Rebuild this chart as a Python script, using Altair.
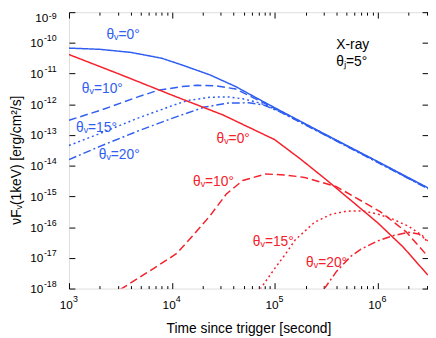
import altair as alt
import pandas as pd

# ---------------- data ----------------
# blue: X-ray, theta_v = 0, 10, 15, 20 deg (upper family)
t_b0 = [1e3, 2.0e3, 4.0e3, 8.0e3, 1.26e4, 2.34e4, 4.17e4, 6.31e4, 1e5, 3.16e5, 1e6, 3.09e6]
f_b0 = [6.76e-11, 6.17e-11, 4.90e-11, 3.16e-11, 1.90e-11, 9.12e-12, 3.80e-12, 1.78e-12, 7.76e-13, 1.02e-13, 1.38e-14, 1.91e-15]

t_b10 = [1e3, 2.0e3, 4.68e3, 7.24e3, 1.26e4, 1.78e4, 2.69e4, 4.17e4, 6.31e4, 1e5, 3.16e5, 1e6, 3.09e6]
f_b10 = [3.02e-13, 6.31e-13, 1.74e-12, 2.82e-12, 3.80e-12, 4.17e-12, 3.98e-12, 3.16e-12, 1.58e-12, 7.41e-13, 1.0e-13, 1.35e-14, 1.86e-15]

t_b15 = [1e3, 2.0e3, 4.68e3, 1.12e4, 1.41e4, 2.34e4, 3.55e4, 4.9e4, 7.08e4, 1e5, 3.16e5, 1e6, 3.09e6]
f_b15 = [4.57e-14, 1.12e-13, 3.55e-13, 1.02e-12, 1.32e-12, 1.70e-12, 1.74e-12, 1.51e-12, 1.12e-12, 7.08e-13, 9.77e-14, 1.32e-14, 1.82e-15]

t_b20 = [1e3, 2.0e3, 4.68e3, 1.12e4, 2.09e4, 3.55e4, 5.62e4, 7.94e4, 1.12e5, 3.16e5, 1e6, 3.09e6]
f_b20 = [1.58e-14, 4.27e-14, 1.35e-13, 3.98e-13, 8.13e-13, 1.10e-12, 1.12e-12, 9.33e-13, 5.75e-13, 9.55e-14, 1.29e-14, 1.78e-15]

# red: lower family
t_r0 = [1e3, 3.16e3, 1e4, 3.16e4, 1e5, 1.78e5, 3.16e5, 5.62e5, 1e6, 1.78e6, 3.09e6]
f_r0 = [4.17e-11, 9.33e-12, 2.0e-12, 4.47e-13, 7.08e-14, 1.66e-14, 3.55e-15, 7.08e-16, 1.41e-16, 2.24e-17, 2.75e-18]

t_r10 = [3.16e3, 5.62e3, 9.33e3, 1.12e4, 1.55e4, 2.34e4, 3.39e4, 4.9e4, 8.13e4, 1.26e5, 1.95e5, 3.98e5, 1.07e6, 1.91e6, 3.09e6]
f_r10 = [9.33e-19, 3.16e-18, 9.33e-18, 1.41e-17, 4.68e-17, 2.29e-16, 1.20e-15, 3.31e-15, 5.37e-15, 5.01e-15, 4.17e-15, 2.09e-15, 3.16e-16, 6.92e-17, 1.12e-17]

t_r15 = [7.24e4, 1e5, 1.26e5, 1.58e5, 1.95e5, 2.45e5, 3.55e5, 5.01e5, 7.08e5, 1e6, 1.41e6, 2.0e6, 2.75e6, 3.09e6]
f_r15 = [9.55e-19, 4.47e-18, 1.26e-17, 3.80e-17, 7.24e-17, 1.45e-16, 2.63e-16, 3.31e-16, 3.39e-16, 2.69e-16, 1.82e-16, 1.07e-16, 5.25e-17, 3.16e-17]

t_r20 = [3.02e5, 3.98e5, 5.5e5, 6.92e5, 1e6, 1.41e6, 2.0e6, 2.51e6, 3.09e6]
f_r20 = [9.55e-19, 3.55e-18, 1.12e-17, 1.91e-17, 3.55e-17, 5.25e-17, 6.76e-17, 6.03e-17, 3.55e-17]

curve_names = ["b0", "b10", "b15", "b20", "r0", "r10", "r15", "r20"]

# annotations
lbl_text = ["θᵥ=0°", "θᵥ=10°", "θᵥ=15°", "θᵥ=20°"]
lbl_blue_t = [3.36e3, 2.11e3, 1.85e3, 3.08e3]
lbl_blue_f = [1.78e-10, 3.05e-12, 1.71e-13, 2.17e-14]
lbl_red_t = [3.95e4, 2.54e4, 9.7e4, 3.2e5]
lbl_red_f = [7.6e-14, 2.96e-15, 3.3e-17, 6.8e-18]
note_text = ["X-ray", "θⱼ=5°"]
note_t = [3.98e5, 3.98e5]
note_f = [8.4e-11, 2.4e-11]

x_major = [1e3, 1e4, 1e5, 1e6]
x_exps = ["3", "4", "5", "6"]
y_major = [1e-18, 1e-17, 1e-16, 1e-15, 1e-14, 1e-13, 1e-12, 1e-11, 1e-10, 1e-9]
y_exps = ["-18", "-17", "-16", "-15", "-14", "-13", "-12", "-11", "-10", "-9"]

# ---------------- build ----------------
BLUE = "#2f5ef0"
RED = "#f5202a"
W, H = 365, 281
XDOM = [1e3, 3.1e6]
YDOM = [1e-18, 1e-9]

series = [t_b0, t_b10, t_b15, t_b20, t_r0, t_r10, t_r15, t_r20]
fluxes = [f_b0, f_b10, f_b15, f_b20, f_r0, f_r10, f_r15, f_r20]
rows = []
for name, ts, fs in zip(curve_names, series, fluxes):
    for t, f in zip(ts, fs):
        rows.append({"t": t, "f": f, "curve": name})
df = pd.DataFrame(rows)

x_minor = [m * 10 ** e for e in range(3, 7) for m in range(2, 10) if m * 10 ** e <= XDOM[1]]
x_ticks = sorted(x_major + x_minor)

xs = alt.Scale(type="log", domain=XDOM, nice=False)
ys = alt.Scale(type="log", domain=YDOM, nice=False)

EXPO = "round(log(datum.value)/LN10)"
xexp_expr = "[" + ",".join("'%s'" % s for s in x_exps) + "][" + EXPO + "-3]"
yexp_expr = "[" + ",".join("'%s'" % s for s in y_exps) + "][" + EXPO + "+18]"
MAJOR = "abs(log(datum.value)/LN10 - " + EXPO + ") < 0.01"
TOP = "datum.value > 5e-10"
xtick_size = {"condition": {"test": MAJOR, "value": 6}, "value": 3}


def tick_axis(orient, offset, values, size):
    return alt.Axis(orient=orient, offset=offset, values=values, labels=False, domain=False,
                    grid=False, title=None, tickSize=size, tickColor="black", tickWidth=1)


dash_range = [[1, 0], [8, 4], [2, 3], [8, 3, 2, 3], [1, 0], [8, 4], [2, 3], [8, 3, 2, 3]]
color_range = [BLUE] * 4 + [RED] * 4

x_base_axis = alt.Axis(orient="bottom", values=x_major, labelExpr="'10'", ticks=False, tickSize=0,
                       domain=False, grid=False,
                       labelFontSize=12, labelAlign="right", labelOffset=3.5, labelBaseline="middle",
                       labelPadding=16, labelColor="black",
                       title="Time since trigger [second]", titleFontSize=14, titleFontWeight="normal",
                       titleColor="black", titleY=41, titleBaseline="middle")
y_base_axis = alt.Axis(orient="left", values=y_major, labelExpr="'10'", ticks=False, tickSize=0,
                       domain=False, grid=False,
                       labelFontSize=12, labelAlign="right", labelBaseline="middle", labelColor="black",
                       labelPadding={"condition": {"test": TOP, "value": 21.5}, "value": 26.5},
                       labelOffset={"condition": {"test": TOP, "value": 5.5}, "value": 0},
                       title="νFᵥ(1keV) [erg/cm²/s]", titleFontSize=14, titleFontWeight="normal",
                       titleColor="black", titleX=-53, titleY=150, titleAngle=270,
                       titleBaseline="middle", titleAlign="center")
x_exp_axis = alt.Axis(orient="bottom", values=x_major, labelExpr=xexp_expr, ticks=False, tickSize=0,
                      domain=False, grid=False,
                      labelFontSize=9, labelAlign="left", labelOffset=3.5, labelBaseline="middle",
                      labelPadding=10, labelColor="black", title=None)
y_exp_axis = alt.Axis(orient="left", values=y_major, labelExpr=yexp_expr, ticks=False, tickSize=0,
                      domain=False, grid=False,
                      labelFontSize=9, labelAlign="right", labelBaseline="middle", labelColor="black",
                      labelPadding=13,
                      labelOffset={"condition": {"test": TOP, "value": 3.5}, "value": -5},
                      title=None)

lines = alt.Chart(df).mark_line(strokeWidth=1.5, clip=True).encode(
    x=alt.X("t:Q", scale=xs, axis=x_base_axis),
    y=alt.Y("f:Q", scale=ys, axis=y_base_axis),
    color=alt.Color("curve:N", scale=alt.Scale(domain=curve_names, range=color_range), legend=None),
    strokeDash=alt.StrokeDash("curve:N", scale=alt.Scale(domain=curve_names, range=dash_range), legend=None),
)

df_bl = pd.DataFrame({"t": lbl_blue_t, "f": lbl_blue_f, "label": lbl_text})
df_rl = pd.DataFrame({"t": lbl_red_t, "f": lbl_red_f, "label": lbl_text})
df_nt = pd.DataFrame({"t": note_t, "f": note_f, "label": note_text})

blue_lbl = alt.Chart(df_bl).mark_text(color=BLUE, fontSize=14, baseline="middle").encode(
    x=alt.X("t:Q", scale=xs, axis=tick_axis("top", -H, x_ticks, xtick_size)),
    y=alt.Y("f:Q", scale=ys, axis=tick_axis("right", -W, y_major, 6)),
    text="label:N",
)
red_lbl = alt.Chart(df_rl).mark_text(color=RED, fontSize=14, baseline="middle").encode(
    x=alt.X("t:Q", scale=xs, axis=tick_axis("bottom", -H, x_ticks, xtick_size)),
    y=alt.Y("f:Q", scale=ys, axis=tick_axis("left", -W, y_major, 6)),
    text="label:N",
)
notes = alt.Chart(df_nt).mark_text(color="black", fontSize=14, baseline="middle", align="left").encode(
    x=alt.X("t:Q", scale=xs, axis=x_exp_axis),
    y=alt.Y("f:Q", scale=ys, axis=y_exp_axis),
    text="label:N",
)

chart = alt.layer(lines, blue_lbl, red_lbl, notes).resolve_axis(
    x="independent", y="independent"
).properties(
    width=W, height=H,
    autosize=alt.AutoSizeParams(type="none"),
    padding={"left": 62, "top": 1.5, "right": 0, "bottom": 47},
).configure_view(stroke="black", strokeWidth=1).configure(font="Liberation Sans")

chart.save("out.html", embed_options={"renderer": "svg", "actions": False})
